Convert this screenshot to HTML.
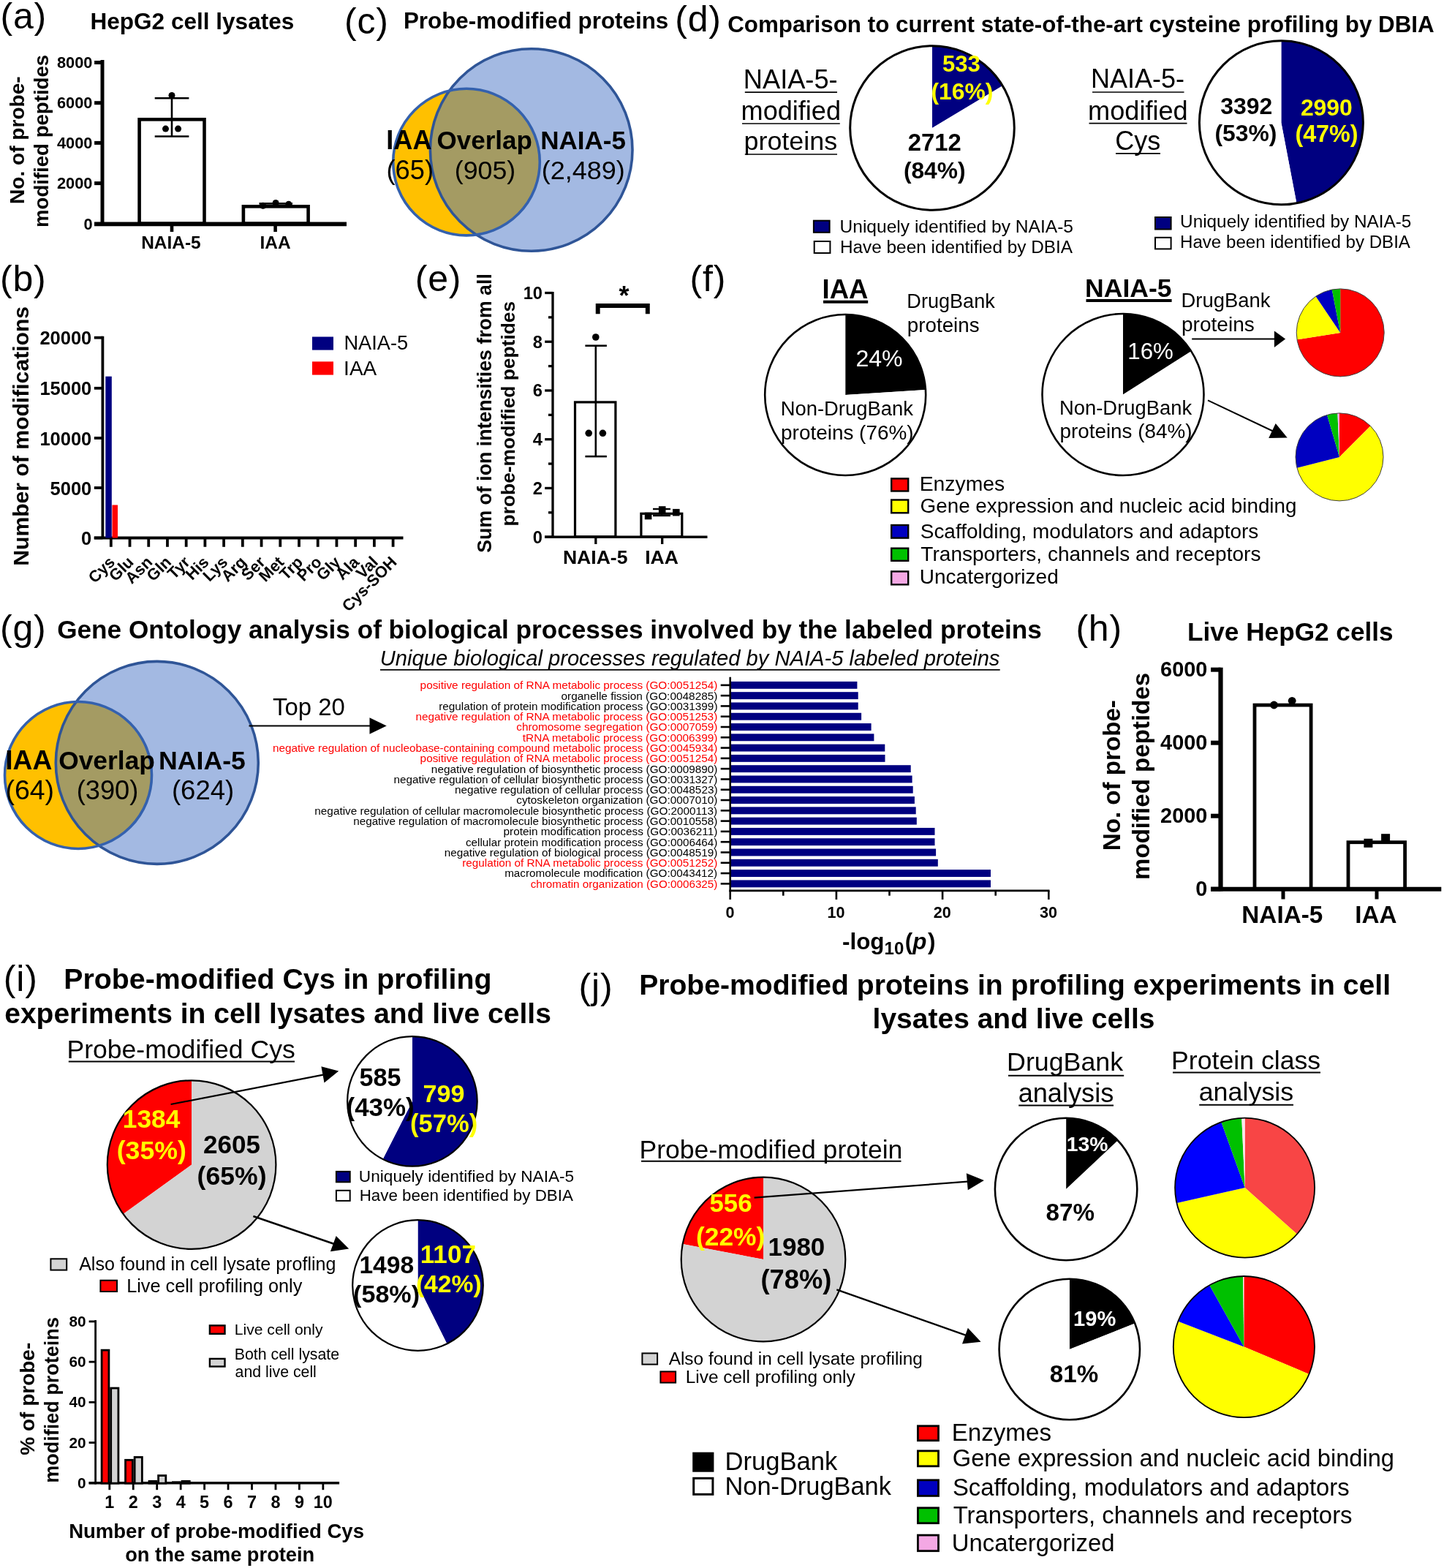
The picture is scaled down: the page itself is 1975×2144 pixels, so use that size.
<!DOCTYPE html>
<html><head><meta charset="utf-8"><style>
html,body{margin:0;padding:0;background:#fff;}
svg{display:block;}
text{font-family:'Liberation Sans', Arial, Helvetica, sans-serif;}
</style></head><body>
<svg width="1975" height="2144" viewBox="0 0 1975 2144">
<rect width="1975" height="2144" fill="#fff"/>
<text x="0.50" y="38.70" font-size="50" font-weight="normal" letter-spacing="0.8">(a)</text>
<text x="123.47" y="40.20" font-size="31.55" font-weight="bold" font-style="normal" fill="#000" >HepG2 cell lysates</text>
<line x1="140.00" y1="82.10" x2="140.00" y2="309.00" stroke="#000" stroke-width="5" stroke-linecap="butt"/>
<line x1="129.00" y1="306.40" x2="474.00" y2="306.40" stroke="#000" stroke-width="5.6" stroke-linecap="butt"/>
<line x1="129.10" y1="85.50" x2="140.00" y2="85.50" stroke="#000" stroke-width="5" stroke-linecap="butt"/>
<text x="126.5" y="92.70" font-size="21.8" font-weight="bold" text-anchor="end">8000</text>
<line x1="129.10" y1="140.70" x2="140.00" y2="140.70" stroke="#000" stroke-width="5" stroke-linecap="butt"/>
<text x="126.5" y="147.90" font-size="21.8" font-weight="bold" text-anchor="end">6000</text>
<line x1="129.10" y1="195.40" x2="140.00" y2="195.40" stroke="#000" stroke-width="5" stroke-linecap="butt"/>
<text x="126.5" y="202.60" font-size="21.8" font-weight="bold" text-anchor="end">4000</text>
<line x1="129.10" y1="250.60" x2="140.00" y2="250.60" stroke="#000" stroke-width="5" stroke-linecap="butt"/>
<text x="126.5" y="257.80" font-size="21.8" font-weight="bold" text-anchor="end">2000</text>
<line x1="129.10" y1="306.40" x2="140.00" y2="306.40" stroke="#000" stroke-width="5" stroke-linecap="butt"/>
<text x="126.5" y="313.60" font-size="21.8" font-weight="bold" text-anchor="end">0</text>
<rect x="190.60" y="163.30" width="88.90" height="142.40" fill="none" stroke="#000" stroke-width="4.6"/>
<rect x="332.90" y="282.30" width="88.70" height="23.40" fill="none" stroke="#000" stroke-width="4.6"/>
<line x1="235.00" y1="134.30" x2="235.00" y2="186.50" stroke="#000" stroke-width="2.6" stroke-linecap="butt"/>
<line x1="211.70" y1="134.30" x2="258.40" y2="134.30" stroke="#000" stroke-width="2.6" stroke-linecap="butt"/>
<line x1="211.70" y1="186.50" x2="258.40" y2="186.50" stroke="#000" stroke-width="2.6" stroke-linecap="butt"/>
<circle cx="235.00" cy="130.40" r="4.50" fill="#000" stroke="none" stroke-width="0"/>
<circle cx="226.50" cy="176.10" r="4.50" fill="#000" stroke="none" stroke-width="0"/>
<circle cx="243.60" cy="176.10" r="4.50" fill="#000" stroke="none" stroke-width="0"/>
<line x1="354.50" y1="278.40" x2="400.00" y2="278.40" stroke="#000" stroke-width="2.6" stroke-linecap="butt"/>
<line x1="377.10" y1="276.00" x2="377.10" y2="281.00" stroke="#000" stroke-width="2.6" stroke-linecap="butt"/>
<circle cx="359.70" cy="281.30" r="4.50" fill="#000" stroke="none" stroke-width="0"/>
<circle cx="377.10" cy="277.40" r="4.50" fill="#000" stroke="none" stroke-width="0"/>
<circle cx="394.80" cy="279.20" r="4.50" fill="#000" stroke="none" stroke-width="0"/>
<line x1="235.00" y1="306.00" x2="235.00" y2="317.00" stroke="#000" stroke-width="4.6" stroke-linecap="butt"/>
<line x1="376.60" y1="306.00" x2="376.60" y2="317.00" stroke="#000" stroke-width="4.6" stroke-linecap="butt"/>
<text x="193.15" y="340.30" font-size="24.46" font-weight="bold" font-style="normal" fill="#000" >NAIA-5</text>
<text x="355.45" y="340.30" font-size="24.45" font-weight="bold" font-style="normal" fill="#000" >IAA</text>
<text transform="translate(32.80,279.00) rotate(-90)" x="0" y="0" font-size="28.09" font-weight="bold" font-style="normal" fill="#000">No. of probe-</text>
<text transform="translate(65.60,310.99) rotate(-90)" x="0" y="0" font-size="27.60" font-weight="bold" font-style="normal" fill="#000">modified peptides</text>
<text x="471.00" y="46.00" font-size="50" font-weight="normal" letter-spacing="0.8">(c)</text>
<text x="551.88" y="38.75" font-size="31.36" font-weight="bold" font-style="normal" fill="#000" >Probe-modified proteins</text>
<defs><clipPath id="vc"><circle cx="726.7" cy="205" r="138.3"/></clipPath></defs>
<circle cx="726.70" cy="205.00" r="138.30" fill="#A3B9E2" stroke="none" stroke-width="0"/>
<circle cx="638.00" cy="221.60" r="100.30" fill="#FFC000" stroke="none" stroke-width="0"/>
<circle cx="638" cy="221.6" r="100.3" fill="#A49B63" clip-path="url(#vc)"/>
<circle cx="726.70" cy="205.00" r="138.30" fill="none" stroke="#2F5597" stroke-width="3.6"/>
<circle cx="638.00" cy="221.60" r="100.30" fill="none" stroke="#3461AE" stroke-width="3.6"/>
<text x="528.31" y="203.75" font-size="36.10" font-weight="bold" font-style="normal" fill="#000" >IAA</text>
<text x="597.60" y="203.75" font-size="35.00" font-weight="bold" font-style="normal" fill="#000" >Overlap</text>
<text x="739.13" y="203.75" font-size="35.06" font-weight="bold" font-style="normal" fill="#000" >NAIA-5</text>
<text x="528.48" y="245.00" font-size="36.31" font-weight="normal" font-style="normal" fill="#000" >(65)</text>
<text x="621.77" y="245.00" font-size="35.75" font-weight="normal" font-style="normal" fill="#000" >(905)</text>
<text x="740.75" y="245.00" font-size="35.99" font-weight="normal" font-style="normal" fill="#000" >(2,489)</text>
<text x="923.30" y="42.60" font-size="50" font-weight="normal" letter-spacing="0.8">(d)</text>
<text x="995.15" y="43.80" font-size="31.35" font-weight="bold" font-style="normal" fill="#000" >Comparison to current state-of-the-art cysteine profiling by DBIA</text>
<path d="M1275.00,175.00 L1275.00,62.70 A112.30,112.30 0 0 1 1371.26,117.16 Z" fill="#000080" stroke="none" stroke-width="0" stroke-linejoin="miter"/>
<path d="M1275.00,175.00 L1371.26,117.16 A112.30,112.30 0 1 1 1275.00,62.70 Z" fill="#fff" stroke="none" stroke-width="0" stroke-linejoin="miter"/>
<circle cx="1275.00" cy="175.00" r="112.30" fill="none" stroke="#000" stroke-width="3"/>
<text x="1288.99" y="97.90" font-size="31.12" font-weight="bold" font-style="normal" fill="#FFFF00" >533</text>
<text x="1273.41" y="136.00" font-size="31.82" font-weight="bold" font-style="normal" fill="#FFFF00" >(16%)</text>
<text x="1241.85" y="206.00" font-size="32.83" font-weight="bold" font-style="normal" fill="#000" >2712</text>
<text x="1235.91" y="244.00" font-size="31.74" font-weight="bold" font-style="normal" fill="#000" >(84%)</text>
<text x="1016.81" y="121.30" font-size="36.24" font-weight="normal" font-style="normal" fill="#000" >NAIA-5-</text>
<line x1="1018.80" y1="126.20" x2="1145.00" y2="126.20" stroke="#000" stroke-width="1.7" stroke-linecap="butt"/>
<text x="1013.56" y="164.20" font-size="36.11" font-weight="normal" font-style="normal" fill="#000" >modified</text>
<line x1="1015.00" y1="169.00" x2="1148.80" y2="169.00" stroke="#000" stroke-width="1.7" stroke-linecap="butt"/>
<text x="1017.47" y="204.60" font-size="35.92" font-weight="normal" font-style="normal" fill="#000" >proteins</text>
<line x1="1018.80" y1="211.00" x2="1145.00" y2="211.00" stroke="#000" stroke-width="1.7" stroke-linecap="butt"/>
<rect x="1112.90" y="301.70" width="21.70" height="16.10" fill="#000080" stroke="#000" stroke-width="2"/>
<rect x="1113.70" y="330.00" width="21.70" height="16.00" fill="#fff" stroke="#000" stroke-width="2"/>
<text x="1148.50" y="317.80" font-size="24.57" font-weight="normal" font-style="normal" fill="#000" >Uniquely identified by NAIA-5</text>
<text x="1148.99" y="345.50" font-size="24.35" font-weight="normal" font-style="normal" fill="#000" >Have been identified by DBIA</text>
<path d="M1752.40,167.80 L1752.40,55.80 A112.00,112.00 0 0 1 1773.39,277.82 Z" fill="#000080" stroke="none" stroke-width="0" stroke-linejoin="miter"/>
<path d="M1752.40,167.80 L1773.39,277.82 A112.00,112.00 0 1 1 1752.40,55.80 Z" fill="#fff" stroke="none" stroke-width="0" stroke-linejoin="miter"/>
<circle cx="1752.40" cy="167.80" r="112.00" fill="none" stroke="#000" stroke-width="3"/>
<text x="1669.28" y="156.30" font-size="31.94" font-weight="bold" font-style="normal" fill="#000" >3392</text>
<text x="1661.41" y="193.00" font-size="31.86" font-weight="bold" font-style="normal" fill="#000" >(53%)</text>
<text x="1778.88" y="157.80" font-size="31.90" font-weight="bold" font-style="normal" fill="#FFFF00" >2990</text>
<text x="1771.38" y="194.30" font-size="32.33" font-weight="bold" font-style="normal" fill="#FFFF00" >(47%)</text>
<text x="1492.03" y="120.40" font-size="36.03" font-weight="normal" font-style="normal" fill="#000" >NAIA-5-</text>
<line x1="1494.00" y1="126.00" x2="1619.50" y2="126.00" stroke="#000" stroke-width="1.7" stroke-linecap="butt"/>
<text x="1488.06" y="163.60" font-size="36.16" font-weight="normal" font-style="normal" fill="#000" >modified</text>
<line x1="1489.50" y1="168.60" x2="1623.50" y2="168.60" stroke="#000" stroke-width="1.7" stroke-linecap="butt"/>
<text x="1525.20" y="204.60" font-size="36.03" font-weight="normal" font-style="normal" fill="#000" >Cys</text>
<line x1="1526.00" y1="209.80" x2="1587.00" y2="209.80" stroke="#000" stroke-width="1.7" stroke-linecap="butt"/>
<rect x="1580.00" y="297.00" width="21.60" height="16.50" fill="#000080" stroke="#000" stroke-width="2"/>
<rect x="1580.00" y="324.80" width="21.60" height="15.60" fill="#fff" stroke="#000" stroke-width="2"/>
<text x="1614.12" y="311.20" font-size="24.32" font-weight="normal" font-style="normal" fill="#000" >Uniquely identified by NAIA-5</text>
<text x="1614.01" y="339.00" font-size="24.11" font-weight="normal" font-style="normal" fill="#000" >Have been identified by DBIA</text>
<text x="0.00" y="398.00" font-size="50" font-weight="normal" letter-spacing="0.8">(b)</text>
<line x1="140.40" y1="459.70" x2="140.40" y2="737.00" stroke="#000" stroke-width="3.8" stroke-linecap="butt"/>
<line x1="128.80" y1="735.50" x2="551.50" y2="735.50" stroke="#000" stroke-width="3.8" stroke-linecap="butt"/>
<line x1="128.80" y1="461.70" x2="140.40" y2="461.70" stroke="#000" stroke-width="3.8" stroke-linecap="butt"/>
<text x="125.3" y="471.20" font-size="25.5" font-weight="bold" text-anchor="end">20000</text>
<line x1="128.80" y1="530.80" x2="140.40" y2="530.80" stroke="#000" stroke-width="3.8" stroke-linecap="butt"/>
<text x="125.3" y="540.30" font-size="25.5" font-weight="bold" text-anchor="end">15000</text>
<line x1="128.80" y1="599.00" x2="140.40" y2="599.00" stroke="#000" stroke-width="3.8" stroke-linecap="butt"/>
<text x="125.3" y="608.50" font-size="25.5" font-weight="bold" text-anchor="end">10000</text>
<line x1="128.80" y1="667.00" x2="140.40" y2="667.00" stroke="#000" stroke-width="3.8" stroke-linecap="butt"/>
<text x="125.3" y="676.50" font-size="25.5" font-weight="bold" text-anchor="end">5000</text>
<line x1="128.80" y1="735.50" x2="140.40" y2="735.50" stroke="#000" stroke-width="3.8" stroke-linecap="butt"/>
<text x="125.3" y="745.00" font-size="25.5" font-weight="bold" text-anchor="end">0</text>
<rect x="144.30" y="514.70" width="8.50" height="220.80" fill="#000080"/>
<rect x="153.50" y="690.50" width="7.50" height="45.00" fill="#FF0000"/>
<line x1="151.80" y1="735.50" x2="151.80" y2="747.80" stroke="#000" stroke-width="3.8" stroke-linecap="butt"/>
<text transform="translate(158.30,770.00) rotate(-45)" font-size="22" font-weight="bold" text-anchor="end">Cys</text>
<line x1="177.52" y1="735.50" x2="177.52" y2="747.80" stroke="#000" stroke-width="3.8" stroke-linecap="butt"/>
<text transform="translate(184.02,770.00) rotate(-45)" font-size="22" font-weight="bold" text-anchor="end">Glu</text>
<line x1="203.24" y1="735.50" x2="203.24" y2="747.80" stroke="#000" stroke-width="3.8" stroke-linecap="butt"/>
<text transform="translate(209.74,770.00) rotate(-45)" font-size="22" font-weight="bold" text-anchor="end">Asn</text>
<line x1="228.96" y1="735.50" x2="228.96" y2="747.80" stroke="#000" stroke-width="3.8" stroke-linecap="butt"/>
<text transform="translate(235.46,770.00) rotate(-45)" font-size="22" font-weight="bold" text-anchor="end">Gln</text>
<line x1="254.68" y1="735.50" x2="254.68" y2="747.80" stroke="#000" stroke-width="3.8" stroke-linecap="butt"/>
<text transform="translate(261.18,770.00) rotate(-45)" font-size="22" font-weight="bold" text-anchor="end">Tyr</text>
<line x1="280.40" y1="735.50" x2="280.40" y2="747.80" stroke="#000" stroke-width="3.8" stroke-linecap="butt"/>
<text transform="translate(286.90,770.00) rotate(-45)" font-size="22" font-weight="bold" text-anchor="end">His</text>
<line x1="306.12" y1="735.50" x2="306.12" y2="747.80" stroke="#000" stroke-width="3.8" stroke-linecap="butt"/>
<text transform="translate(312.62,770.00) rotate(-45)" font-size="22" font-weight="bold" text-anchor="end">Lys</text>
<line x1="331.84" y1="735.50" x2="331.84" y2="747.80" stroke="#000" stroke-width="3.8" stroke-linecap="butt"/>
<text transform="translate(338.34,770.00) rotate(-45)" font-size="22" font-weight="bold" text-anchor="end">Arg</text>
<line x1="357.56" y1="735.50" x2="357.56" y2="747.80" stroke="#000" stroke-width="3.8" stroke-linecap="butt"/>
<text transform="translate(364.06,770.00) rotate(-45)" font-size="22" font-weight="bold" text-anchor="end">Ser</text>
<line x1="383.28" y1="735.50" x2="383.28" y2="747.80" stroke="#000" stroke-width="3.8" stroke-linecap="butt"/>
<text transform="translate(389.78,770.00) rotate(-45)" font-size="22" font-weight="bold" text-anchor="end">Met</text>
<line x1="409.00" y1="735.50" x2="409.00" y2="747.80" stroke="#000" stroke-width="3.8" stroke-linecap="butt"/>
<text transform="translate(415.50,770.00) rotate(-45)" font-size="22" font-weight="bold" text-anchor="end">Trp</text>
<line x1="434.72" y1="735.50" x2="434.72" y2="747.80" stroke="#000" stroke-width="3.8" stroke-linecap="butt"/>
<text transform="translate(441.22,770.00) rotate(-45)" font-size="22" font-weight="bold" text-anchor="end">Pro</text>
<line x1="460.44" y1="735.50" x2="460.44" y2="747.80" stroke="#000" stroke-width="3.8" stroke-linecap="butt"/>
<text transform="translate(466.94,770.00) rotate(-45)" font-size="22" font-weight="bold" text-anchor="end">Gly</text>
<line x1="486.16" y1="735.50" x2="486.16" y2="747.80" stroke="#000" stroke-width="3.8" stroke-linecap="butt"/>
<text transform="translate(492.66,770.00) rotate(-45)" font-size="22" font-weight="bold" text-anchor="end">Ala</text>
<line x1="511.88" y1="735.50" x2="511.88" y2="747.80" stroke="#000" stroke-width="3.8" stroke-linecap="butt"/>
<text transform="translate(518.38,770.00) rotate(-45)" font-size="22" font-weight="bold" text-anchor="end">Val</text>
<line x1="537.60" y1="735.50" x2="537.60" y2="747.80" stroke="#000" stroke-width="3.8" stroke-linecap="butt"/>
<text transform="translate(544.10,770.00) rotate(-45)" font-size="22" font-weight="bold" text-anchor="end">Cys-SOH</text>
<rect x="427.00" y="460.50" width="29.00" height="18.10" fill="#000080"/>
<rect x="427.00" y="494.40" width="29.00" height="18.20" fill="#FF0000"/>
<text x="470.46" y="477.70" font-size="27.19" font-weight="normal" font-style="normal" fill="#000" >NAIA-5</text>
<text x="470.11" y="512.60" font-size="28.01" font-weight="normal" font-style="normal" fill="#000" >IAA</text>
<text transform="translate(39.40,773.73) rotate(-90)" x="0" y="0" font-size="30.14" font-weight="bold" font-style="normal" fill="#000">Number of modifications</text>
<text x="567.80" y="397.60" font-size="50" font-weight="normal" letter-spacing="0.8">(e)</text>
<line x1="756.00" y1="398.90" x2="756.00" y2="735.80" stroke="#000" stroke-width="3.3" stroke-linecap="butt"/>
<line x1="745.00" y1="734.20" x2="967.50" y2="734.20" stroke="#000" stroke-width="3.5" stroke-linecap="butt"/>
<line x1="745.20" y1="734.20" x2="756.00" y2="734.20" stroke="#000" stroke-width="3.3" stroke-linecap="butt"/>
<text x="742" y="742.50" font-size="23.7" font-weight="bold" text-anchor="end">0</text>
<line x1="750.00" y1="700.83" x2="756.00" y2="700.83" stroke="#000" stroke-width="3.3" stroke-linecap="butt"/>
<line x1="745.20" y1="667.46" x2="756.00" y2="667.46" stroke="#000" stroke-width="3.3" stroke-linecap="butt"/>
<text x="742" y="675.76" font-size="23.7" font-weight="bold" text-anchor="end">2</text>
<line x1="750.00" y1="634.09" x2="756.00" y2="634.09" stroke="#000" stroke-width="3.3" stroke-linecap="butt"/>
<line x1="745.20" y1="600.72" x2="756.00" y2="600.72" stroke="#000" stroke-width="3.3" stroke-linecap="butt"/>
<text x="742" y="609.02" font-size="23.7" font-weight="bold" text-anchor="end">4</text>
<line x1="750.00" y1="567.35" x2="756.00" y2="567.35" stroke="#000" stroke-width="3.3" stroke-linecap="butt"/>
<line x1="745.20" y1="533.98" x2="756.00" y2="533.98" stroke="#000" stroke-width="3.3" stroke-linecap="butt"/>
<text x="742" y="542.28" font-size="23.7" font-weight="bold" text-anchor="end">6</text>
<line x1="750.00" y1="500.61" x2="756.00" y2="500.61" stroke="#000" stroke-width="3.3" stroke-linecap="butt"/>
<line x1="745.20" y1="467.24" x2="756.00" y2="467.24" stroke="#000" stroke-width="3.3" stroke-linecap="butt"/>
<text x="742" y="475.54" font-size="23.7" font-weight="bold" text-anchor="end">8</text>
<line x1="750.00" y1="433.87" x2="756.00" y2="433.87" stroke="#000" stroke-width="3.3" stroke-linecap="butt"/>
<line x1="745.20" y1="400.50" x2="756.00" y2="400.50" stroke="#000" stroke-width="3.3" stroke-linecap="butt"/>
<text x="742" y="408.80" font-size="23.7" font-weight="bold" text-anchor="end">10</text>
<rect x="786.50" y="549.90" width="55.40" height="184.00" fill="none" stroke="#000" stroke-width="3.2"/>
<rect x="876.90" y="702.30" width="55.90" height="31.60" fill="none" stroke="#000" stroke-width="3.2"/>
<line x1="814.80" y1="472.70" x2="814.80" y2="624.10" stroke="#000" stroke-width="2.6" stroke-linecap="butt"/>
<line x1="800.40" y1="472.70" x2="829.90" y2="472.70" stroke="#000" stroke-width="2.6" stroke-linecap="butt"/>
<line x1="800.40" y1="624.10" x2="829.90" y2="624.10" stroke="#000" stroke-width="2.6" stroke-linecap="butt"/>
<circle cx="814.80" cy="461.00" r="4.80" fill="#000" stroke="none" stroke-width="0"/>
<circle cx="805.20" cy="592.30" r="4.80" fill="#000" stroke="none" stroke-width="0"/>
<circle cx="824.40" cy="592.30" r="4.80" fill="#000" stroke="none" stroke-width="0"/>
<line x1="905.00" y1="696.00" x2="905.00" y2="706.00" stroke="#000" stroke-width="2.4" stroke-linecap="butt"/>
<line x1="893.00" y1="696.00" x2="917.00" y2="696.00" stroke="#000" stroke-width="2.4" stroke-linecap="butt"/>
<line x1="893.00" y1="705.00" x2="917.00" y2="705.00" stroke="#000" stroke-width="2.4" stroke-linecap="butt"/>
<rect x="881.80" y="700.70" width="9.60" height="9.60" fill="#000"/>
<rect x="900.90" y="692.20" width="9.60" height="9.60" fill="#000"/>
<rect x="920.00" y="695.90" width="9.60" height="9.60" fill="#000"/>
<path d="M817.7,429.2 L817.7,418 L885.8,418 L885.8,429.2" fill="none" stroke="#000" stroke-width="5.9" stroke-linejoin="miter"/>
<text x="853.5" y="417" font-size="36" font-weight="bold" text-anchor="middle">*</text>
<line x1="814.80" y1="734.00" x2="814.80" y2="744.00" stroke="#000" stroke-width="3.3" stroke-linecap="butt"/>
<line x1="905.70" y1="734.00" x2="905.70" y2="744.00" stroke="#000" stroke-width="3.3" stroke-linecap="butt"/>
<text x="769.90" y="771.30" font-size="26.59" font-weight="bold" font-style="normal" fill="#000" >NAIA-5</text>
<text x="882.21" y="771.30" font-size="26.54" font-weight="bold" font-style="normal" fill="#000" >IAA</text>
<text transform="translate(672.30,755.70) rotate(-90)" x="0" y="0" font-size="26.72" font-weight="bold" font-style="normal" fill="#000">Sum of ion intensities from all</text>
<text transform="translate(703.60,719.41) rotate(-90)" x="0" y="0" font-size="26.36" font-weight="bold" font-style="normal" fill="#000">probe-modified peptides</text>
<text x="943.50" y="398.20" font-size="50" font-weight="normal" letter-spacing="0.8">(f)</text>
<text x="1124.54" y="408.20" font-size="36.37" font-weight="bold" font-style="normal" fill="#000" >IAA</text>
<line x1="1126.00" y1="412.70" x2="1187.20" y2="412.70" stroke="#000" stroke-width="3.9" stroke-linecap="butt"/>
<path d="M1156.20,540.00 L1156.20,430.00 A110.00,110.00 0 0 1 1265.98,533.09 Z" fill="#000" stroke="none" stroke-width="0" stroke-linejoin="miter"/>
<path d="M1156.20,540.00 L1265.98,533.09 A110.00,110.00 0 1 1 1156.20,430.00 Z" fill="#fff" stroke="none" stroke-width="0" stroke-linejoin="miter"/>
<circle cx="1156.20" cy="540.00" r="110.00" fill="none" stroke="#000" stroke-width="2.6"/>
<text x="1170.39" y="500.50" font-size="32.11" font-weight="normal" font-style="normal" fill="#fff" >24%</text>
<text x="1067.64" y="568.00" font-size="27.42" font-weight="normal" font-style="normal" fill="#000" >Non-DrugBank</text>
<text x="1068.09" y="600.50" font-size="27.91" font-weight="normal" font-style="normal" fill="#000" >proteins (76%)</text>
<text x="1240.37" y="421.20" font-size="27.08" font-weight="normal" font-style="normal" fill="#000" >DrugBank</text>
<text x="1240.80" y="453.70" font-size="27.77" font-weight="normal" font-style="normal" fill="#000" >proteins</text>
<rect x="1219.20" y="654.40" width="23.00" height="17.10" fill="#FF0000" stroke="#000" stroke-width="2.4"/>
<text x="1257.66" y="671.40" font-size="28.34" font-weight="normal" font-style="normal" fill="#000" >Enzymes</text>
<rect x="1219.20" y="683.50" width="23.00" height="17.80" fill="#FFFF00" stroke="#000" stroke-width="2.4"/>
<text x="1258.61" y="700.50" font-size="27.82" font-weight="normal" font-style="normal" fill="#000" >Gene expression and nucleic acid binding</text>
<rect x="1219.20" y="718.00" width="23.00" height="17.60" fill="#0000C0" stroke="#000" stroke-width="2.4"/>
<text x="1258.74" y="735.50" font-size="27.96" font-weight="normal" font-style="normal" fill="#000" >Scaffolding, modulators and adaptors</text>
<rect x="1219.20" y="749.70" width="23.00" height="17.10" fill="#00C000" stroke="#000" stroke-width="2.4"/>
<text x="1259.37" y="766.70" font-size="28.05" font-weight="normal" font-style="normal" fill="#000" >Transporters, channels and receptors</text>
<rect x="1219.20" y="781.40" width="23.00" height="17.90" fill="#F4A8E4" stroke="#000" stroke-width="2.4"/>
<text x="1257.83" y="797.90" font-size="28.01" font-weight="normal" font-style="normal" fill="#000" >Uncatergorized</text>
<text x="1484.10" y="406.30" font-size="35.55" font-weight="bold" font-style="normal" fill="#000" >NAIA-5</text>
<line x1="1485.50" y1="411.00" x2="1602.60" y2="411.00" stroke="#000" stroke-width="3.9" stroke-linecap="butt"/>
<path d="M1536.00,539.50 L1536.00,429.00 A110.50,110.50 0 0 1 1629.30,480.29 Z" fill="#000" stroke="none" stroke-width="0" stroke-linejoin="miter"/>
<path d="M1536.00,539.50 L1629.30,480.29 A110.50,110.50 0 1 1 1536.00,429.00 Z" fill="#fff" stroke="none" stroke-width="0" stroke-linejoin="miter"/>
<circle cx="1536.00" cy="539.50" r="110.50" fill="none" stroke="#000" stroke-width="2.6"/>
<text x="1542.35" y="491.30" font-size="31.27" font-weight="normal" font-style="normal" fill="#fff" >16%</text>
<text x="1449.04" y="566.60" font-size="27.39" font-weight="normal" font-style="normal" fill="#000" >Non-DrugBank</text>
<text x="1449.49" y="599.20" font-size="27.83" font-weight="normal" font-style="normal" fill="#000" >proteins (84%)</text>
<text x="1615.54" y="420.30" font-size="27.45" font-weight="normal" font-style="normal" fill="#000" >DrugBank</text>
<text x="1615.98" y="453.00" font-size="28.05" font-weight="normal" font-style="normal" fill="#000" >proteins</text>
<line x1="1630.20" y1="463.50" x2="1744.00" y2="463.50" stroke="#000" stroke-width="1.9" stroke-linecap="butt"/>
<polygon points="1758.10,463.50 1742.90,452.60 1742.90,475.10" fill="#000"/>
<line x1="1652.00" y1="547.40" x2="1741.00" y2="589.50" stroke="#000" stroke-width="2" stroke-linecap="butt"/>
<polygon points="1744.70,579.00 1735.20,598.90 1760.70,598.40" fill="#000"/>
<path d="M1833.20,454.90 L1833.20,394.90 A60.00,60.00 0 1 1 1773.94,464.29 Z" fill="#FF0000" stroke="none" stroke-width="0" stroke-linejoin="miter"/>
<path d="M1833.20,454.90 L1773.94,464.29 A60.00,60.00 0 0 1 1799.65,405.16 Z" fill="#FFFF00" stroke="none" stroke-width="0" stroke-linejoin="miter"/>
<path d="M1833.20,454.90 L1799.65,405.16 A60.00,60.00 0 0 1 1821.75,396.00 Z" fill="#0000C0" stroke="none" stroke-width="0" stroke-linejoin="miter"/>
<path d="M1833.20,454.90 L1821.75,396.00 A60.00,60.00 0 0 1 1833.20,394.90 Z" fill="#00C000" stroke="none" stroke-width="0" stroke-linejoin="miter"/>
<circle cx="1833.20" cy="454.90" r="60.00" fill="none" stroke="#404040" stroke-width="1"/>
<path d="M1832.00,624.90 L1832.00,564.90 A60.00,60.00 0 0 1 1874.43,582.47 Z" fill="#FF0000" stroke="none" stroke-width="0" stroke-linejoin="miter"/>
<path d="M1832.00,624.90 L1874.43,582.47 A60.00,60.00 0 1 1 1773.89,639.82 Z" fill="#FFFF00" stroke="none" stroke-width="0" stroke-linejoin="miter"/>
<path d="M1832.00,624.90 L1773.89,639.82 A60.00,60.00 0 0 1 1815.06,567.34 Z" fill="#0000C0" stroke="none" stroke-width="0" stroke-linejoin="miter"/>
<path d="M1832.00,624.90 L1815.06,567.34 A60.00,60.00 0 0 1 1829.38,564.96 Z" fill="#00C000" stroke="none" stroke-width="0" stroke-linejoin="miter"/>
<path d="M1832.00,624.90 L1829.38,564.96 A60.00,60.00 0 0 1 1832.00,564.90 Z" fill="#F4A8E4" stroke="none" stroke-width="0" stroke-linejoin="miter"/>
<circle cx="1832.00" cy="624.90" r="60.00" fill="none" stroke="#404040" stroke-width="1"/>
<text x="0.00" y="876.30" font-size="50" font-weight="normal" letter-spacing="0.8">(g)</text>
<text x="78.19" y="872.50" font-size="35.19" font-weight="bold" font-style="normal" fill="#000" >Gene Ontology analysis of biological processes involved by the labeled proteins</text>
<defs><clipPath id="vg"><circle cx="214.8" cy="1042.9" r="138.5"/></clipPath></defs>
<circle cx="214.80" cy="1042.90" r="138.50" fill="#A3B9E2" stroke="none" stroke-width="0"/>
<circle cx="107.00" cy="1060.00" r="100.50" fill="#FFC000" stroke="none" stroke-width="0"/>
<circle cx="107" cy="1060" r="100.5" fill="#A49B63" clip-path="url(#vg)"/>
<circle cx="214.80" cy="1042.90" r="138.50" fill="none" stroke="#2F5597" stroke-width="3.6"/>
<circle cx="107.00" cy="1060.00" r="100.50" fill="none" stroke="#3461AE" stroke-width="3.6"/>
<text x="7.29" y="1052.30" font-size="37.17" font-weight="bold" font-style="normal" fill="#000" >IAA</text>
<text x="80.18" y="1052.30" font-size="35.39" font-weight="bold" font-style="normal" fill="#000" >Overlap</text>
<text x="217.10" y="1052.30" font-size="35.61" font-weight="bold" font-style="normal" fill="#000" >NAIA-5</text>
<text x="7.46" y="1093.00" font-size="37.46" font-weight="normal" font-style="normal" fill="#000" >(64)</text>
<text x="104.74" y="1093.00" font-size="36.20" font-weight="normal" font-style="normal" fill="#000" >(390)</text>
<text x="234.91" y="1093.00" font-size="36.56" font-weight="normal" font-style="normal" fill="#000" >(624)</text>
<line x1="340.50" y1="992.50" x2="507.00" y2="992.50" stroke="#000" stroke-width="2.2" stroke-linecap="butt"/>
<polygon points="528.75,992.50 505.50,981.25 505.50,1003.75" fill="#000"/>
<text x="373.01" y="977.50" font-size="32.88" font-weight="normal" font-style="normal" fill="#000" >Top 20</text>
<text x="519.81" y="909.90" font-size="29.16" font-weight="normal" font-style="italic" fill="#000" >Unique biological processes regulated by NAIA-5 labeled proteins</text>
<line x1="520.00" y1="915.90" x2="1367.70" y2="915.90" stroke="#000" stroke-width="1.6" stroke-linecap="butt"/>
<text x="574.60" y="942.25" font-size="15.35" font-weight="normal" font-style="normal" fill="#FF0000" >positive regulation of RNA metabolic process (GO:0051254)</text>
<rect x="999.50" y="931.90" width="172.90" height="9.90" fill="#000080"/>
<line x1="985.70" y1="936.85" x2="999.00" y2="936.85" stroke="#000" stroke-width="2.6" stroke-linecap="butt"/>
<text x="767.55" y="956.54" font-size="15.40" font-weight="normal" font-style="normal" fill="#000" >organelle fission (GO:0048285)</text>
<rect x="999.50" y="946.19" width="174.20" height="9.90" fill="#000080"/>
<line x1="985.70" y1="951.14" x2="999.00" y2="951.14" stroke="#000" stroke-width="2.6" stroke-linecap="butt"/>
<text x="600.17" y="970.83" font-size="15.32" font-weight="normal" font-style="normal" fill="#000" >regulation of protein modification process (GO:0031399)</text>
<rect x="999.50" y="960.48" width="174.20" height="9.90" fill="#000080"/>
<line x1="985.70" y1="965.43" x2="999.00" y2="965.43" stroke="#000" stroke-width="2.6" stroke-linecap="butt"/>
<text x="568.46" y="985.12" font-size="15.35" font-weight="normal" font-style="normal" fill="#FF0000" >negative regulation of RNA metabolic process (GO:0051253)</text>
<rect x="999.50" y="974.77" width="178.60" height="9.90" fill="#000080"/>
<line x1="985.70" y1="979.72" x2="999.00" y2="979.72" stroke="#000" stroke-width="2.6" stroke-linecap="butt"/>
<text x="706.25" y="999.41" font-size="15.33" font-weight="normal" font-style="normal" fill="#FF0000" >chromosome segregation (GO:0007059)</text>
<rect x="999.50" y="989.06" width="192.10" height="9.90" fill="#000080"/>
<line x1="985.70" y1="994.01" x2="999.00" y2="994.01" stroke="#000" stroke-width="2.6" stroke-linecap="butt"/>
<text x="714.77" y="1013.70" font-size="15.38" font-weight="normal" font-style="normal" fill="#FF0000" >tRNA metabolic process (GO:0006399)</text>
<rect x="999.50" y="1003.35" width="195.90" height="9.90" fill="#000080"/>
<line x1="985.70" y1="1008.30" x2="999.00" y2="1008.30" stroke="#000" stroke-width="2.6" stroke-linecap="butt"/>
<text x="373.07" y="1027.99" font-size="15.29" font-weight="normal" font-style="normal" fill="#FF0000" >negative regulation of nucleobase-containing compound metabolic process (GO:0045934)</text>
<rect x="999.50" y="1017.64" width="210.80" height="9.90" fill="#000080"/>
<line x1="985.70" y1="1022.59" x2="999.00" y2="1022.59" stroke="#000" stroke-width="2.6" stroke-linecap="butt"/>
<text x="574.60" y="1042.28" font-size="15.35" font-weight="normal" font-style="normal" fill="#FF0000" >positive regulation of RNA metabolic process (GO:0051254)</text>
<rect x="999.50" y="1031.93" width="211.00" height="9.90" fill="#000080"/>
<line x1="985.70" y1="1036.88" x2="999.00" y2="1036.88" stroke="#000" stroke-width="2.6" stroke-linecap="butt"/>
<text x="589.87" y="1056.57" font-size="15.32" font-weight="normal" font-style="normal" fill="#000" >negative regulation of biosynthetic process (GO:0009890)</text>
<rect x="999.50" y="1046.22" width="246.20" height="9.90" fill="#000080"/>
<line x1="985.70" y1="1051.17" x2="999.00" y2="1051.17" stroke="#000" stroke-width="2.6" stroke-linecap="butt"/>
<text x="538.47" y="1070.86" font-size="15.27" font-weight="normal" font-style="normal" fill="#000" >negative regulation of cellular biosynthetic process (GO:0031327)</text>
<rect x="999.50" y="1060.51" width="248.10" height="9.90" fill="#000080"/>
<line x1="985.70" y1="1065.46" x2="999.00" y2="1065.46" stroke="#000" stroke-width="2.6" stroke-linecap="butt"/>
<text x="621.97" y="1085.15" font-size="15.33" font-weight="normal" font-style="normal" fill="#000" >negative regulation of cellular process (GO:0048523)</text>
<rect x="999.50" y="1074.80" width="249.20" height="9.90" fill="#000080"/>
<line x1="985.70" y1="1079.75" x2="999.00" y2="1079.75" stroke="#000" stroke-width="2.6" stroke-linecap="butt"/>
<text x="706.25" y="1099.44" font-size="15.33" font-weight="normal" font-style="normal" fill="#000" >cytoskeleton organization (GO:0007010)</text>
<rect x="999.50" y="1089.09" width="251.40" height="9.90" fill="#000080"/>
<line x1="985.70" y1="1094.04" x2="999.00" y2="1094.04" stroke="#000" stroke-width="2.6" stroke-linecap="butt"/>
<text x="430.37" y="1113.73" font-size="15.31" font-weight="normal" font-style="normal" fill="#000" >negative regulation of cellular macromolecule biosynthetic process (GO:2000113)</text>
<rect x="999.50" y="1103.38" width="253.20" height="9.90" fill="#000080"/>
<line x1="985.70" y1="1108.33" x2="999.00" y2="1108.33" stroke="#000" stroke-width="2.6" stroke-linecap="butt"/>
<text x="483.17" y="1128.02" font-size="15.27" font-weight="normal" font-style="normal" fill="#000" >negative regulation of macromolecule biosynthetic process (GO:0010558)</text>
<rect x="999.50" y="1117.67" width="254.30" height="9.90" fill="#000080"/>
<line x1="985.70" y1="1122.62" x2="999.00" y2="1122.62" stroke="#000" stroke-width="2.6" stroke-linecap="butt"/>
<text x="688.50" y="1142.31" font-size="15.39" font-weight="normal" font-style="normal" fill="#000" >protein modification process (GO:0036211)</text>
<rect x="999.50" y="1131.96" width="279.00" height="9.90" fill="#000080"/>
<line x1="985.70" y1="1136.91" x2="999.00" y2="1136.91" stroke="#000" stroke-width="2.6" stroke-linecap="butt"/>
<text x="636.95" y="1156.60" font-size="15.27" font-weight="normal" font-style="normal" fill="#000" >cellular protein modification process (GO:0006464)</text>
<rect x="999.50" y="1146.25" width="279.00" height="9.90" fill="#000080"/>
<line x1="985.70" y1="1151.20" x2="999.00" y2="1151.20" stroke="#000" stroke-width="2.6" stroke-linecap="butt"/>
<text x="607.67" y="1170.89" font-size="15.29" font-weight="normal" font-style="normal" fill="#000" >negative regulation of biological process (GO:0048519)</text>
<rect x="999.50" y="1160.54" width="280.60" height="9.90" fill="#000080"/>
<line x1="985.70" y1="1165.49" x2="999.00" y2="1165.49" stroke="#000" stroke-width="2.6" stroke-linecap="butt"/>
<text x="632.17" y="1185.18" font-size="15.29" font-weight="normal" font-style="normal" fill="#FF0000" >regulation of RNA metabolic process (GO:0051252)</text>
<rect x="999.50" y="1174.83" width="283.30" height="9.90" fill="#000080"/>
<line x1="985.70" y1="1179.78" x2="999.00" y2="1179.78" stroke="#000" stroke-width="2.6" stroke-linecap="butt"/>
<text x="690.17" y="1199.47" font-size="15.28" font-weight="normal" font-style="normal" fill="#000" >macromolecule modification (GO:0043412)</text>
<rect x="999.50" y="1189.12" width="355.50" height="9.90" fill="#000080"/>
<line x1="985.70" y1="1194.07" x2="999.00" y2="1194.07" stroke="#000" stroke-width="2.6" stroke-linecap="butt"/>
<text x="725.65" y="1213.76" font-size="15.24" font-weight="normal" font-style="normal" fill="#FF0000" >chromatin organization (GO:0006325)</text>
<rect x="999.50" y="1203.41" width="355.50" height="9.90" fill="#000080"/>
<line x1="985.70" y1="1208.36" x2="999.00" y2="1208.36" stroke="#000" stroke-width="2.6" stroke-linecap="butt"/>
<line x1="998.70" y1="925.70" x2="998.70" y2="1219.30" stroke="#000" stroke-width="2.6" stroke-linecap="butt"/>
<line x1="997.40" y1="1217.90" x2="1435.50" y2="1217.90" stroke="#000" stroke-width="2.6" stroke-linecap="butt"/>
<line x1="998.70" y1="1217.90" x2="998.70" y2="1230.00" stroke="#000" stroke-width="2.6" stroke-linecap="butt"/>
<line x1="1071.30" y1="1217.90" x2="1071.30" y2="1224.70" stroke="#000" stroke-width="2.6" stroke-linecap="butt"/>
<line x1="1143.90" y1="1217.90" x2="1143.90" y2="1230.00" stroke="#000" stroke-width="2.6" stroke-linecap="butt"/>
<line x1="1216.50" y1="1217.90" x2="1216.50" y2="1224.70" stroke="#000" stroke-width="2.6" stroke-linecap="butt"/>
<line x1="1289.10" y1="1217.90" x2="1289.10" y2="1230.00" stroke="#000" stroke-width="2.6" stroke-linecap="butt"/>
<line x1="1361.70" y1="1217.90" x2="1361.70" y2="1224.70" stroke="#000" stroke-width="2.6" stroke-linecap="butt"/>
<line x1="1434.30" y1="1217.90" x2="1434.30" y2="1230.00" stroke="#000" stroke-width="2.6" stroke-linecap="butt"/>
<text x="998.40" y="1254.7" font-size="21.6" font-weight="bold" text-anchor="middle">0</text>
<text x="1143.60" y="1254.7" font-size="21.6" font-weight="bold" text-anchor="middle">10</text>
<text x="1288.80" y="1254.7" font-size="21.6" font-weight="bold" text-anchor="middle">20</text>
<text x="1434.00" y="1254.7" font-size="21.6" font-weight="bold" text-anchor="middle">30</text>
<text x="1152" y="1297.7" font-size="31.4" font-weight="bold">-log<tspan font-size="24" dy="7.3">10</tspan><tspan dy="-7.3" dx="1.5">(</tspan><tspan font-style="italic">p</tspan><tspan dx="1.5">)</tspan></text>
<text x="1471.40" y="876.00" font-size="50" font-weight="normal" letter-spacing="0.8">(h)</text>
<text x="1623.92" y="875.60" font-size="35.21" font-weight="bold" font-style="normal" fill="#000" >Live HepG2 cells</text>
<line x1="1669.50" y1="912.70" x2="1669.50" y2="1218.60" stroke="#000" stroke-width="6.2" stroke-linecap="butt"/>
<line x1="1656.10" y1="1215.70" x2="1971.30" y2="1215.70" stroke="#000" stroke-width="6" stroke-linecap="butt"/>
<line x1="1656.10" y1="915.70" x2="1669.50" y2="915.70" stroke="#000" stroke-width="6" stroke-linecap="butt"/>
<text x="1651.4" y="925.30" font-size="28.9" font-weight="bold" text-anchor="end">6000</text>
<line x1="1656.10" y1="1015.70" x2="1669.50" y2="1015.70" stroke="#000" stroke-width="6" stroke-linecap="butt"/>
<text x="1651.4" y="1025.30" font-size="28.9" font-weight="bold" text-anchor="end">4000</text>
<line x1="1656.10" y1="1115.70" x2="1669.50" y2="1115.70" stroke="#000" stroke-width="6" stroke-linecap="butt"/>
<text x="1651.4" y="1125.30" font-size="28.9" font-weight="bold" text-anchor="end">2000</text>
<line x1="1656.10" y1="1215.70" x2="1669.50" y2="1215.70" stroke="#000" stroke-width="6" stroke-linecap="butt"/>
<text x="1651.4" y="1225.30" font-size="28.9" font-weight="bold" text-anchor="end">0</text>
<rect x="1716.00" y="964.10" width="77.10" height="251.50" fill="none" stroke="#000" stroke-width="4.8"/>
<rect x="1844.00" y="1151.70" width="77.60" height="63.90" fill="none" stroke="#000" stroke-width="4.8"/>
<circle cx="1742.50" cy="964.00" r="5.40" fill="#000" stroke="none" stroke-width="0"/>
<circle cx="1767.20" cy="958.30" r="5.40" fill="#000" stroke="none" stroke-width="0"/>
<rect x="1865.40" y="1146.80" width="12.00" height="12.00" fill="#000"/>
<rect x="1889.10" y="1140.20" width="12.00" height="12.00" fill="#000"/>
<line x1="1755.00" y1="1215.00" x2="1755.00" y2="1229.50" stroke="#000" stroke-width="5" stroke-linecap="butt"/>
<line x1="1883.00" y1="1215.00" x2="1883.00" y2="1229.50" stroke="#000" stroke-width="5" stroke-linecap="butt"/>
<text x="1698.35" y="1262.00" font-size="33.27" font-weight="bold" font-style="normal" fill="#000" >NAIA-5</text>
<text x="1853.26" y="1262.00" font-size="33.24" font-weight="bold" font-style="normal" fill="#000" >IAA</text>
<text transform="translate(1532.00,1163.24) rotate(-90)" x="0" y="0" font-size="33.13" font-weight="bold" font-style="normal" fill="#000">No. of probe-</text>
<text transform="translate(1572.20,1202.95) rotate(-90)" x="0" y="0" font-size="33.09" font-weight="bold" font-style="normal" fill="#000">modified peptides</text>
<text x="4.80" y="1355.00" font-size="50" font-weight="normal" letter-spacing="0.8">(i)</text>
<text x="87.35" y="1352.00" font-size="39.30" font-weight="bold" font-style="normal" fill="#000" >Probe-modified Cys in profiling</text>
<text x="6.24" y="1398.70" font-size="38.99" font-weight="bold" font-style="normal" fill="#000" >experiments in cell lysates and live cells</text>
<text x="91.47" y="1447.20" font-size="35.57" font-weight="normal" font-style="normal" fill="#000" >Probe-modified Cys</text>
<line x1="93.80" y1="1451.40" x2="403.00" y2="1451.40" stroke="#000" stroke-width="2" stroke-linecap="butt"/>
<path d="M262.10,1592.60 L168.58,1660.05 A115.30,115.30 0 0 1 262.10,1477.30 Z" fill="#FF0000" stroke="none" stroke-width="0" stroke-linejoin="miter"/>
<path d="M262.10,1592.60 L262.10,1477.30 A115.30,115.30 0 1 1 168.58,1660.05 Z" fill="#D3D3D3" stroke="none" stroke-width="0" stroke-linejoin="miter"/>
<circle cx="262.10" cy="1592.60" r="115.30" fill="none" stroke="#000" stroke-width="2.2"/>
<text x="167.80" y="1542.40" font-size="35.27" font-weight="bold" font-style="normal" fill="#FFFF00" >1384</text>
<text x="159.71" y="1584.80" font-size="35.72" font-weight="bold" font-style="normal" fill="#FFFF00" >(35%)</text>
<text x="277.97" y="1577.00" font-size="35.09" font-weight="bold" font-style="normal" fill="#000" >2605</text>
<text x="269.62" y="1619.50" font-size="35.60" font-weight="bold" font-style="normal" fill="#000" >(65%)</text>
<line x1="233.60" y1="1510.00" x2="442.00" y2="1469.60" stroke="#000" stroke-width="2.2" stroke-linecap="butt"/>
<polygon points="463.20,1464.50 439.40,1458.20 443.50,1480.60" fill="#000"/>
<line x1="346.40" y1="1663.00" x2="458.00" y2="1701.20" stroke="#000" stroke-width="2.5" stroke-linecap="butt"/>
<polygon points="477.20,1707.60 459.70,1690.10 451.90,1711.30" fill="#000"/>
<path d="M563.90,1505.90 L563.90,1417.10 A88.80,88.80 0 1 1 523.59,1585.02 Z" fill="#000080" stroke="none" stroke-width="0" stroke-linejoin="miter"/>
<path d="M563.90,1505.90 L523.59,1585.02 A88.80,88.80 0 0 1 563.90,1417.10 Z" fill="#fff" stroke="none" stroke-width="0" stroke-linejoin="miter"/>
<circle cx="563.90" cy="1505.90" r="88.80" fill="none" stroke="#000" stroke-width="2.2"/>
<text x="491.49" y="1485.30" font-size="34.21" font-weight="bold" font-style="normal" fill="#000" >585</text>
<text x="473.55" y="1526.00" font-size="34.94" font-weight="bold" font-style="normal" fill="#000" >(43%)</text>
<text x="578.55" y="1507.00" font-size="34.09" font-weight="bold" font-style="normal" fill="#FFFF00" >799</text>
<text x="561.07" y="1547.60" font-size="34.55" font-weight="bold" font-style="normal" fill="#FFFF00" >(57%)</text>
<rect x="459.90" y="1601.90" width="18.80" height="14.40" fill="#000080" stroke="#000" stroke-width="2"/>
<rect x="459.90" y="1627.80" width="18.80" height="14.10" fill="#fff" stroke="#000" stroke-width="2"/>
<text x="490.85" y="1616.00" font-size="22.64" font-weight="normal" font-style="normal" fill="#000" >Uniquely identified by NAIA-5</text>
<text x="491.65" y="1642.00" font-size="22.38" font-weight="normal" font-style="normal" fill="#000" >Have been identified by DBIA</text>
<path d="M571.50,1757.50 L571.50,1668.20 A89.30,89.30 0 0 1 611.35,1837.42 Z" fill="#000080" stroke="none" stroke-width="0" stroke-linejoin="miter"/>
<path d="M571.50,1757.50 L611.35,1837.42 A89.30,89.30 0 1 1 571.50,1668.20 Z" fill="#fff" stroke="none" stroke-width="0" stroke-linejoin="miter"/>
<circle cx="571.50" cy="1757.50" r="89.30" fill="none" stroke="#000" stroke-width="2.2"/>
<text x="491.40" y="1741.00" font-size="33.57" font-weight="bold" font-style="normal" fill="#000" >1498</text>
<text x="483.10" y="1781.00" font-size="34.08" font-weight="bold" font-style="normal" fill="#000" >(58%)</text>
<text x="574.81" y="1726.80" font-size="35.10" font-weight="bold" font-style="normal" fill="#FFFF00" >1107</text>
<text x="568.92" y="1767.00" font-size="33.69" font-weight="bold" font-style="normal" fill="#FFFF00" >(42%)</text>
<rect x="69.40" y="1721.30" width="21.80" height="15.30" fill="#D3D3D3" stroke="#000" stroke-width="2"/>
<text x="108.14" y="1736.80" font-size="25.09" font-weight="normal" font-style="normal" fill="#000" >Also found in cell lysate profling</text>
<rect x="137.40" y="1750.70" width="22.60" height="15.30" fill="#FF0000" stroke="#000" stroke-width="2"/>
<text x="173.21" y="1767.00" font-size="25.28" font-weight="normal" font-style="normal" fill="#000" >Live cell profiling only</text>
<line x1="130.60" y1="1805.10" x2="130.60" y2="2029.50" stroke="#000" stroke-width="2.8" stroke-linecap="butt"/>
<line x1="121.60" y1="2027.80" x2="464.10" y2="2027.80" stroke="#000" stroke-width="3.5" stroke-linecap="butt"/>
<line x1="121.60" y1="2027.80" x2="130.60" y2="2027.80" stroke="#000" stroke-width="2.8" stroke-linecap="butt"/>
<text x="117.6" y="2034.80" font-size="20.8" font-weight="bold" text-anchor="end">0</text>
<line x1="121.60" y1="1972.58" x2="130.60" y2="1972.58" stroke="#000" stroke-width="2.8" stroke-linecap="butt"/>
<text x="117.6" y="1979.58" font-size="20.8" font-weight="bold" text-anchor="end">20</text>
<line x1="121.60" y1="1917.36" x2="130.60" y2="1917.36" stroke="#000" stroke-width="2.8" stroke-linecap="butt"/>
<text x="117.6" y="1924.36" font-size="20.8" font-weight="bold" text-anchor="end">40</text>
<line x1="121.60" y1="1862.14" x2="130.60" y2="1862.14" stroke="#000" stroke-width="2.8" stroke-linecap="butt"/>
<text x="117.6" y="1869.14" font-size="20.8" font-weight="bold" text-anchor="end">60</text>
<line x1="121.60" y1="1806.92" x2="130.60" y2="1806.92" stroke="#000" stroke-width="2.8" stroke-linecap="butt"/>
<text x="117.6" y="1813.92" font-size="20.8" font-weight="bold" text-anchor="end">80</text>
<line x1="149.80" y1="2027.80" x2="149.80" y2="2037.20" stroke="#000" stroke-width="2.8" stroke-linecap="butt"/>
<text x="149.80" y="2061.7" font-size="23.4" font-weight="bold" text-anchor="middle">1</text>
<line x1="182.25" y1="2027.80" x2="182.25" y2="2037.20" stroke="#000" stroke-width="2.8" stroke-linecap="butt"/>
<text x="182.25" y="2061.7" font-size="23.4" font-weight="bold" text-anchor="middle">2</text>
<line x1="214.70" y1="2027.80" x2="214.70" y2="2037.20" stroke="#000" stroke-width="2.8" stroke-linecap="butt"/>
<text x="214.70" y="2061.7" font-size="23.4" font-weight="bold" text-anchor="middle">3</text>
<line x1="247.15" y1="2027.80" x2="247.15" y2="2037.20" stroke="#000" stroke-width="2.8" stroke-linecap="butt"/>
<text x="247.15" y="2061.7" font-size="23.4" font-weight="bold" text-anchor="middle">4</text>
<line x1="279.60" y1="2027.80" x2="279.60" y2="2037.20" stroke="#000" stroke-width="2.8" stroke-linecap="butt"/>
<text x="279.60" y="2061.7" font-size="23.4" font-weight="bold" text-anchor="middle">5</text>
<line x1="312.05" y1="2027.80" x2="312.05" y2="2037.20" stroke="#000" stroke-width="2.8" stroke-linecap="butt"/>
<text x="312.05" y="2061.7" font-size="23.4" font-weight="bold" text-anchor="middle">6</text>
<line x1="344.50" y1="2027.80" x2="344.50" y2="2037.20" stroke="#000" stroke-width="2.8" stroke-linecap="butt"/>
<text x="344.50" y="2061.7" font-size="23.4" font-weight="bold" text-anchor="middle">7</text>
<line x1="376.95" y1="2027.80" x2="376.95" y2="2037.20" stroke="#000" stroke-width="2.8" stroke-linecap="butt"/>
<text x="376.95" y="2061.7" font-size="23.4" font-weight="bold" text-anchor="middle">8</text>
<line x1="409.40" y1="2027.80" x2="409.40" y2="2037.20" stroke="#000" stroke-width="2.8" stroke-linecap="butt"/>
<text x="409.40" y="2061.7" font-size="23.4" font-weight="bold" text-anchor="middle">9</text>
<line x1="441.85" y1="2027.80" x2="441.85" y2="2037.20" stroke="#000" stroke-width="2.8" stroke-linecap="butt"/>
<text x="441.85" y="2061.7" font-size="23.4" font-weight="bold" text-anchor="middle">10</text>
<rect x="139.10" y="1846.15" width="9.80" height="182.00" fill="#FF0000" stroke="#000" stroke-width="2.8"/>
<rect x="151.70" y="1898.05" width="10.20" height="130.10" fill="#D3D3D3" stroke="#000" stroke-width="2.8"/>
<rect x="171.55" y="1996.34" width="9.80" height="31.81" fill="#FF0000" stroke="#000" stroke-width="2.8"/>
<rect x="184.15" y="1992.48" width="10.20" height="35.67" fill="#D3D3D3" stroke="#000" stroke-width="2.8"/>
<rect x="204.00" y="2025.33" width="9.80" height="2.82" fill="#FF0000" stroke="#000" stroke-width="2.8"/>
<rect x="216.60" y="2017.60" width="10.20" height="10.55" fill="#D3D3D3" stroke="#000" stroke-width="2.8"/>
<rect x="235.05" y="2025.32" width="12.60" height="2.48" fill="#000"/>
<rect x="249.05" y="2025.33" width="10.20" height="2.82" fill="#D3D3D3" stroke="#000" stroke-width="2.8"/>
<rect x="286.90" y="1812.40" width="20.60" height="11.40" fill="#FF0000" stroke="#000" stroke-width="2.4"/>
<text x="320.76" y="1825.00" font-size="21.12" font-weight="normal" font-style="normal" fill="#000" >Live cell only</text>
<rect x="286.90" y="1857.90" width="20.60" height="10.60" fill="#D3D3D3" stroke="#000" stroke-width="2.4"/>
<text x="320.74" y="1858.80" font-size="21.32" font-weight="normal" font-style="normal" fill="#000" >Both cell lysate</text>
<text x="321.59" y="1882.60" font-size="21.30" font-weight="normal" font-style="normal" fill="#000" >and live cell</text>
<text transform="translate(47.20,1989.70) rotate(-90)" x="0" y="0" font-size="27.99" font-weight="bold" font-style="normal" fill="#000">% of probe-</text>
<text transform="translate(80.00,2027.86) rotate(-90)" x="0" y="0" font-size="27.04" font-weight="bold" font-style="normal" fill="#000">modified proteins</text>
<text x="94.14" y="2103.40" font-size="27.54" font-weight="bold" font-style="normal" fill="#000" >Number of probe-modified Cys</text>
<text x="171.21" y="2135.00" font-size="27.27" font-weight="bold" font-style="normal" fill="#000" >on the same protein</text>
<text x="791.60" y="1366.30" font-size="50" font-weight="normal" letter-spacing="0.8">(j)</text>
<text x="874.16" y="1360.00" font-size="39.11" font-weight="bold" font-style="normal" fill="#000" >Probe-modified proteins in profiling experiments in cell</text>
<text x="1193.57" y="1406.20" font-size="39.00" font-weight="bold" font-style="normal" fill="#000" >lysates and live cells</text>
<text x="874.47" y="1584.00" font-size="35.58" font-weight="normal" font-style="normal" fill="#000" >Probe-modified protein</text>
<line x1="877.00" y1="1587.80" x2="1232.50" y2="1587.80" stroke="#000" stroke-width="2" stroke-linecap="butt"/>
<path d="M1044.00,1722.00 L933.69,1700.96 A112.30,112.30 0 0 1 1044.00,1609.70 Z" fill="#FF0000" stroke="none" stroke-width="0" stroke-linejoin="miter"/>
<path d="M1044.00,1722.00 L1044.00,1609.70 A112.30,112.30 0 1 1 933.69,1700.96 Z" fill="#D3D3D3" stroke="none" stroke-width="0" stroke-linejoin="miter"/>
<circle cx="1044.00" cy="1722.00" r="112.30" fill="none" stroke="#000" stroke-width="2.2"/>
<text x="970.47" y="1657.10" font-size="34.88" font-weight="bold" font-style="normal" fill="#FFFF00" >556</text>
<text x="951.93" y="1702.60" font-size="35.40" font-weight="bold" font-style="normal" fill="#FFFF00" >(22%)</text>
<text x="1050.52" y="1717.20" font-size="34.95" font-weight="bold" font-style="normal" fill="#000" >1980</text>
<text x="1040.49" y="1761.70" font-size="36.30" font-weight="bold" font-style="normal" fill="#000" >(78%)</text>
<line x1="1031.60" y1="1637.70" x2="1323.00" y2="1615.70" stroke="#000" stroke-width="2.2" stroke-linecap="butt"/>
<polygon points="1345.90,1614.00 1321.80,1604.30 1323.80,1627.20" fill="#000"/>
<line x1="1144.30" y1="1763.30" x2="1322.00" y2="1826.20" stroke="#000" stroke-width="2.4" stroke-linecap="butt"/>
<polygon points="1341.60,1834.80 1323.80,1815.70 1316.00,1837.40" fill="#000"/>
<text x="1377.05" y="1464.20" font-size="35.78" font-weight="normal" font-style="normal" fill="#000" >DrugBank</text>
<line x1="1379.00" y1="1470.70" x2="1537.20" y2="1470.70" stroke="#000" stroke-width="2" stroke-linecap="butt"/>
<text x="1392.66" y="1507.30" font-size="36.15" font-weight="normal" font-style="normal" fill="#000" >analysis</text>
<line x1="1393.20" y1="1511.60" x2="1523.00" y2="1511.60" stroke="#000" stroke-width="2" stroke-linecap="butt"/>
<text x="1602.06" y="1462.00" font-size="35.67" font-weight="normal" font-style="normal" fill="#000" >Protein class</text>
<line x1="1604.00" y1="1466.40" x2="1806.00" y2="1466.40" stroke="#000" stroke-width="2" stroke-linecap="butt"/>
<text x="1639.68" y="1505.00" font-size="35.87" font-weight="normal" font-style="normal" fill="#000" >analysis</text>
<line x1="1640.20" y1="1510.70" x2="1769.00" y2="1510.70" stroke="#000" stroke-width="2" stroke-linecap="butt"/>
<path d="M1458.10,1626.00 L1458.10,1528.80 A97.20,97.20 0 0 1 1528.96,1559.46 Z" fill="#000" stroke="none" stroke-width="0" stroke-linejoin="miter"/>
<path d="M1458.10,1626.00 L1528.96,1559.46 A97.20,97.20 0 1 1 1458.10,1528.80 Z" fill="#fff" stroke="none" stroke-width="0" stroke-linejoin="miter"/>
<circle cx="1458.10" cy="1626.00" r="97.20" fill="none" stroke="#000" stroke-width="2.6"/>
<text x="1458.73" y="1574.00" font-size="28.34" font-weight="bold" font-style="normal" fill="#fff" >13%</text>
<text x="1430.62" y="1668.60" font-size="33.20" font-weight="bold" font-style="normal" fill="#000" >87%</text>
<path d="M1462.80,1845.00 L1462.80,1748.80 A96.20,96.20 0 0 1 1552.24,1809.59 Z" fill="#000" stroke="none" stroke-width="0" stroke-linejoin="miter"/>
<path d="M1462.80,1845.00 L1552.24,1809.59 A96.20,96.20 0 1 1 1462.80,1748.80 Z" fill="#fff" stroke="none" stroke-width="0" stroke-linejoin="miter"/>
<circle cx="1462.80" cy="1845.00" r="96.20" fill="none" stroke="#000" stroke-width="2.6"/>
<text x="1468.08" y="1813.40" font-size="29.12" font-weight="bold" font-style="normal" fill="#fff" >19%</text>
<text x="1435.82" y="1889.70" font-size="33.15" font-weight="bold" font-style="normal" fill="#000" >81%</text>
<path d="M1702.60,1624.10 L1702.60,1528.60 A95.50,95.50 0 0 1 1774.01,1687.50 Z" fill="#F84545" stroke="none" stroke-width="0" stroke-linejoin="miter"/>
<path d="M1702.60,1624.10 L1774.01,1687.50 A95.50,95.50 0 0 1 1609.40,1644.93 Z" fill="#FFFF00" stroke="none" stroke-width="0" stroke-linejoin="miter"/>
<path d="M1702.60,1624.10 L1609.40,1644.93 A95.50,95.50 0 0 1 1670.41,1534.19 Z" fill="#0000FF" stroke="none" stroke-width="0" stroke-linejoin="miter"/>
<path d="M1702.60,1624.10 L1670.41,1534.19 A95.50,95.50 0 0 1 1698.27,1528.70 Z" fill="#00C000" stroke="none" stroke-width="0" stroke-linejoin="miter"/>
<path d="M1702.60,1624.10 L1698.27,1528.70 A95.50,95.50 0 0 1 1702.60,1528.60 Z" fill="#FFE4EC" stroke="none" stroke-width="0" stroke-linejoin="miter"/>
<circle cx="1702.60" cy="1624.10" r="95.50" fill="none" stroke="#000" stroke-width="1.8"/>
<path d="M1701.40,1841.60 L1701.40,1745.00 A96.60,96.60 0 0 1 1790.52,1878.88 Z" fill="#FF0000" stroke="none" stroke-width="0" stroke-linejoin="miter"/>
<path d="M1701.40,1841.60 L1790.52,1878.88 A96.60,96.60 0 0 1 1611.34,1806.67 Z" fill="#FFFF00" stroke="none" stroke-width="0" stroke-linejoin="miter"/>
<path d="M1701.40,1841.60 L1611.34,1806.67 A96.60,96.60 0 0 1 1654.27,1757.28 Z" fill="#0000FF" stroke="none" stroke-width="0" stroke-linejoin="miter"/>
<path d="M1701.40,1841.60 L1654.27,1757.28 A96.60,96.60 0 0 1 1700.05,1745.01 Z" fill="#00C000" stroke="none" stroke-width="0" stroke-linejoin="miter"/>
<path d="M1701.40,1841.60 L1700.05,1745.01 A96.60,96.60 0 0 1 1701.40,1745.00 Z" fill="#FFE4EC" stroke="none" stroke-width="0" stroke-linejoin="miter"/>
<circle cx="1701.40" cy="1841.60" r="96.60" fill="none" stroke="#000" stroke-width="1.8"/>
<rect x="878.40" y="1850.40" width="20.70" height="15.20" fill="#D3D3D3" stroke="#000" stroke-width="2"/>
<text x="914.64" y="1865.60" font-size="24.41" font-weight="normal" font-style="normal" fill="#000" >Also found in cell lysate profiling</text>
<rect x="903.40" y="1875.40" width="20.70" height="15.20" fill="#FF0000" stroke="#000" stroke-width="2"/>
<text x="937.69" y="1890.90" font-size="24.41" font-weight="normal" font-style="normal" fill="#000" >Live cell profiling only</text>
<rect x="947.20" y="1985.70" width="29.20" height="27.00" fill="#000"/>
<rect x="948.70" y="2021.30" width="26.20" height="22.00" fill="#fff" stroke="#000" stroke-width="3"/>
<text x="991.45" y="2010.00" font-size="34.59" font-weight="normal" font-style="normal" fill="#000" >DrugBank</text>
<text x="991.46" y="2043.50" font-size="34.40" font-weight="normal" font-style="normal" fill="#000" >Non-DrugBank</text>
<rect x="1255.40" y="1949.80" width="28.10" height="19.90" fill="#FF0000" stroke="#000" stroke-width="2.8"/>
<text x="1301.66" y="1970.10" font-size="33.17" font-weight="normal" font-style="normal" fill="#000" >Enzymes</text>
<rect x="1255.40" y="1983.90" width="28.10" height="20.90" fill="#FFFF00" stroke="#000" stroke-width="2.8"/>
<text x="1302.77" y="2005.20" font-size="32.65" font-weight="normal" font-style="normal" fill="#000" >Gene expression and nucleic acid binding</text>
<rect x="1255.40" y="2023.80" width="28.10" height="21.60" fill="#0000C0" stroke="#000" stroke-width="2.8"/>
<text x="1302.92" y="2045.10" font-size="32.80" font-weight="normal" font-style="normal" fill="#000" >Scaffolding, modulators and adaptors</text>
<rect x="1255.40" y="2061.80" width="28.10" height="20.90" fill="#00C000" stroke="#000" stroke-width="2.8"/>
<text x="1303.66" y="2083.10" font-size="32.93" font-weight="normal" font-style="normal" fill="#000" >Transporters, channels and receptors</text>
<rect x="1255.40" y="2099.10" width="28.10" height="21.60" fill="#F4A8E4" stroke="#000" stroke-width="2.8"/>
<text x="1301.86" y="2120.50" font-size="32.83" font-weight="normal" font-style="normal" fill="#000" >Uncatergorized</text>
</svg></body></html>
